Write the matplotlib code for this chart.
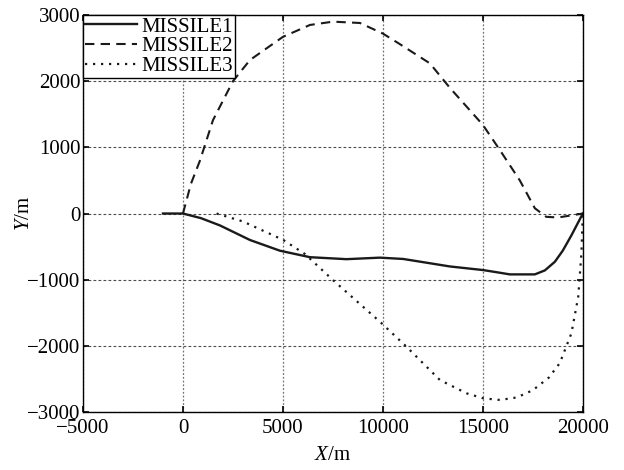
import numpy as np
import matplotlib
matplotlib.use("Agg")
import matplotlib.pyplot as plt

plt.rcParams['font.family'] = ['Liberation Serif', 'DejaVu Serif']
plt.rcParams['mathtext.fontset'] = 'custom'
plt.rcParams['mathtext.rm'] = 'Liberation Serif'
plt.rcParams['mathtext.it'] = 'Liberation Serif:italic'

# trajectories (X, Y in metres)
m1_x = [-1000, 0, 900, 1850, 3350, 4850, 6350, 8180, 9850, 11020, 13350, 15020, 15850, 16350, 17600, 18100, 18600, 19000, 19430, 20000]
m1_y = [0, 0, -70, -180, -400, -562, -660, -690, -667, -687, -800, -855, -895, -920, -920, -860, -730, -560, -330, 0]

m2_x = [0, 400, 850, 1500, 2500, 3350, 5000, 6350, 7500, 8850, 10000, 10850, 12350, 13350, 15000, 15850, 16850, 17600, 18170, 18770, 20000]
m2_y = [0, 450, 800, 1410, 2000, 2320, 2670, 2850, 2900, 2880, 2720, 2560, 2270, 1900, 1340, 960, 500, 80, -50, -60, 0]

m3_x = [1680, 3000, 5020, 6100, 7500, 9850, 11180, 12850, 14180, 15020, 15850, 16700, 17500, 18300, 18850, 19430, 19770, 19930, 20000]
m3_y = [0, -120, -400, -612, -1005, -1635, -2013, -2516, -2717, -2793, -2818, -2780, -2670, -2480, -2260, -1810, -1260, -600, 0]

fig = plt.figure(figsize=(6.24, 4.70), dpi=100)
ax = fig.add_axes([0.133, 0.1234, 0.801, 0.8446])

ax.plot(m1_x, m1_y, color='#1a1a1a', linestyle='-', linewidth=1.7, label='MISSILE1')
ax.plot(m2_x, m2_y, color='#1a1a1a', linestyle=(0, (4.5, 3)), linewidth=1.5, label='MISSILE2')
ax.plot(m3_x, m3_y, color='#1a1a1a', linestyle=(0, (1, 2.6)), linewidth=1.6, label='MISSILE3')

ax.set_xlim(-5000, 20000)
ax.set_ylim(-3000, 3000)
ax.set_xticks(np.arange(-5000, 20001, 5000))
ax.set_yticks(np.arange(-3000, 3001, 1000))
ax.xaxis.grid(True, color='0.45', linestyle=(0, (1.5, 1.5)), linewidth=0.9)
ax.yaxis.grid(True, color='0.3', linestyle=(0, (2.5, 2)), linewidth=0.8)
ax.tick_params(direction='in', top=True, right=True, labelsize=15, length=4, width=1.2, pad=2)
ax.tick_params(axis='x', pad=5)
for s in ax.spines.values():
    s.set_linewidth(1.0)

ax.set_xlabel('$X$/m', fontsize=15, labelpad=6)
ax.set_ylabel('$Y$/m', fontsize=15, labelpad=-5)

leg = ax.legend(loc='upper left', fontsize=15, frameon=True, fancybox=False,
                borderaxespad=0, handlelength=2.5, borderpad=0.1, labelspacing=0.0,
                handletextpad=0.2)
leg.get_frame().set_edgecolor('black')
leg.get_frame().set_linewidth(1.0)
leg.get_frame().set_alpha(1)

fig.savefig('out.png', dpi=100)
